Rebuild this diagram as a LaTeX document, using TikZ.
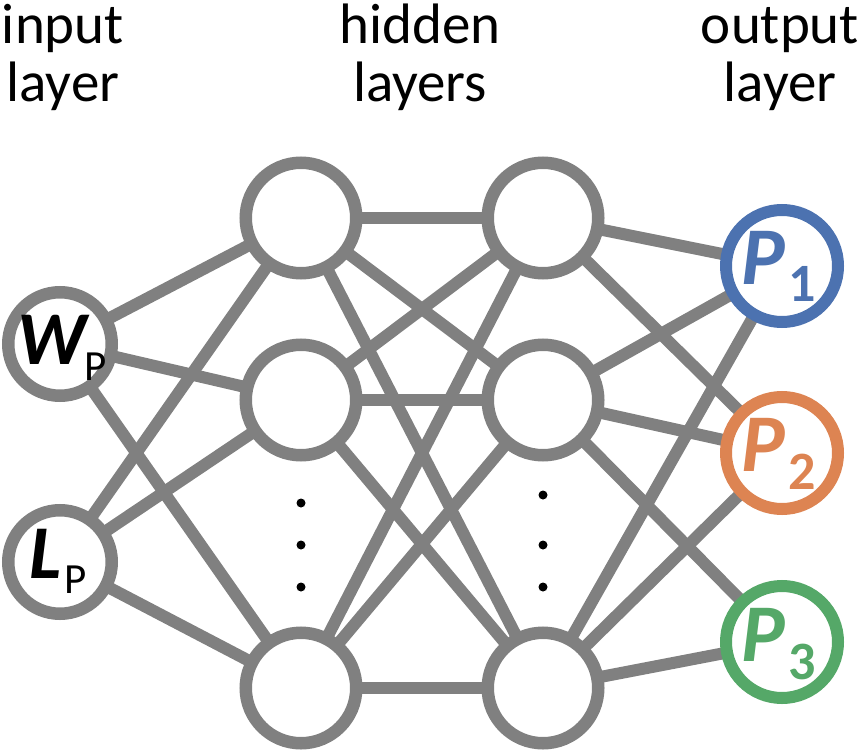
\documentclass[tikz,border=0pt]{standalone}
\usepackage{fontspec}
\setmainfont{Carlito}
\usetikzlibrary{backgrounds}
\definecolor{edgegray}{HTML}{808080}
\definecolor{pblue}{HTML}{4C72B0}
\definecolor{porange}{HTML}{DD8452}
\definecolor{pgreen}{HTML}{55A868}
\begin{document}
\begin{tikzpicture}[x=1pt,y=-1pt,
  neuron/.style={circle, draw=edgegray, line width=12.5pt, fill=white, minimum size=110.5pt, inner sep=0pt},
  innode/.style={neuron, minimum size=103.5pt},
  outnode/.style={circle, line width=12pt, fill=white, minimum size=112pt, inner sep=0pt},
  link/.style={draw=edgegray, line width=12pt},
  dotmark/.style={circle, fill=black, minimum size=9pt, inner sep=0pt},
  title/.style={inner sep=0pt, anchor=base, font=\fontsize{57}{58}\selectfont},
  biglab/.style={inner sep=0pt, anchor=base west, font=\fontsize{76}{76}\selectfont\bfseries\itshape},
  plab/.style={inner sep=0pt, anchor=base west, font=\fontsize{82}{82}\selectfont\bfseries\itshape},
  insub/.style={inner sep=0pt, anchor=base west, font=\fontsize{43}{43}\selectfont},
  outsub/.style={inner sep=0pt, anchor=base west, font=\fontsize{54}{54}\selectfont\bfseries}
]
\useasboundingbox (0,0) rectangle (861,751);

% titles
\node[title] (t1a) at (63,44) {input};
\node[title] (t1b) at (63,102) {layer};
\node[title] (t2a) at (420,44) {hidden};
\node[title] (t2b) at (420,102) {layers};
\node[title] (t3a) at (780,44) {output};
\node[title] (t3b) at (780,102) {layer};

% neurons
\node[innode] (w) at (60,344) {};
\node[innode] (l) at (60,562) {};
\node[neuron] (h1a) at (301,218) {};
\node[neuron] (h1b) at (301,400) {};
\node[neuron] (h1c) at (301,688) {};
\node[neuron] (h2a) at (543,218) {};
\node[neuron] (h2b) at (543,400) {};
\node[neuron] (h2c) at (543,688) {};
\node[outnode, draw=pblue] (p1) at (782,266) {};
\node[outnode, draw=porange] (p2) at (782,453) {};
\node[outnode, draw=pgreen] (p3) at (782,642) {};

% connections
\begin{scope}[on background layer]
  \foreach \a in {w,l}
    \foreach \b in {h1a,h1b,h1c}
      \draw[link] (\a.center) -- (\b.center);
  \foreach \a in {h1a,h1b,h1c}
    \foreach \b in {h2a,h2b,h2c}
      \draw[link] (\a.center) -- (\b.center);
  \draw[link] (h2a.center) -- (p1.center);
  \draw[link] (h2a.center) -- (p2.center);
  \foreach \a in {h2b,h2c}
    \foreach \b in {p1,p2,p3}
      \draw[link] (\a.center) -- (\b.center);
\end{scope}

% dots
\node[dotmark] (d1a) at (301,503) {};
\node[dotmark] (d1b) at (301,545) {};
\node[dotmark] (d1c) at (301,587) {};
\node[dotmark] (d2a) at (543,495) {};
\node[dotmark] (d2b) at (543,545) {};
\node[dotmark] (d2c) at (543,587) {};

% labels
\node[biglab] (wl) at (17,364) {W};
\node[insub] (wsub) at (84,380) {P};
\node[biglab] (ll) at (29,578) {L};
\node[insub] (lsub) at (64,593) {P};

\node[plab, text=pblue] (p1l) at (741,284) {P};
\node[outsub, text=pblue] (p1s) at (788,301) {1};
\node[plab, text=porange] (p2l) at (741,471) {P};
\node[outsub, text=porange] (p2s) at (788,489) {2};
\node[plab, text=pgreen] (p3l) at (741,661) {P};
\node[outsub, text=pgreen] (p3s) at (788,679) {3};
\end{tikzpicture}
\end{document}
